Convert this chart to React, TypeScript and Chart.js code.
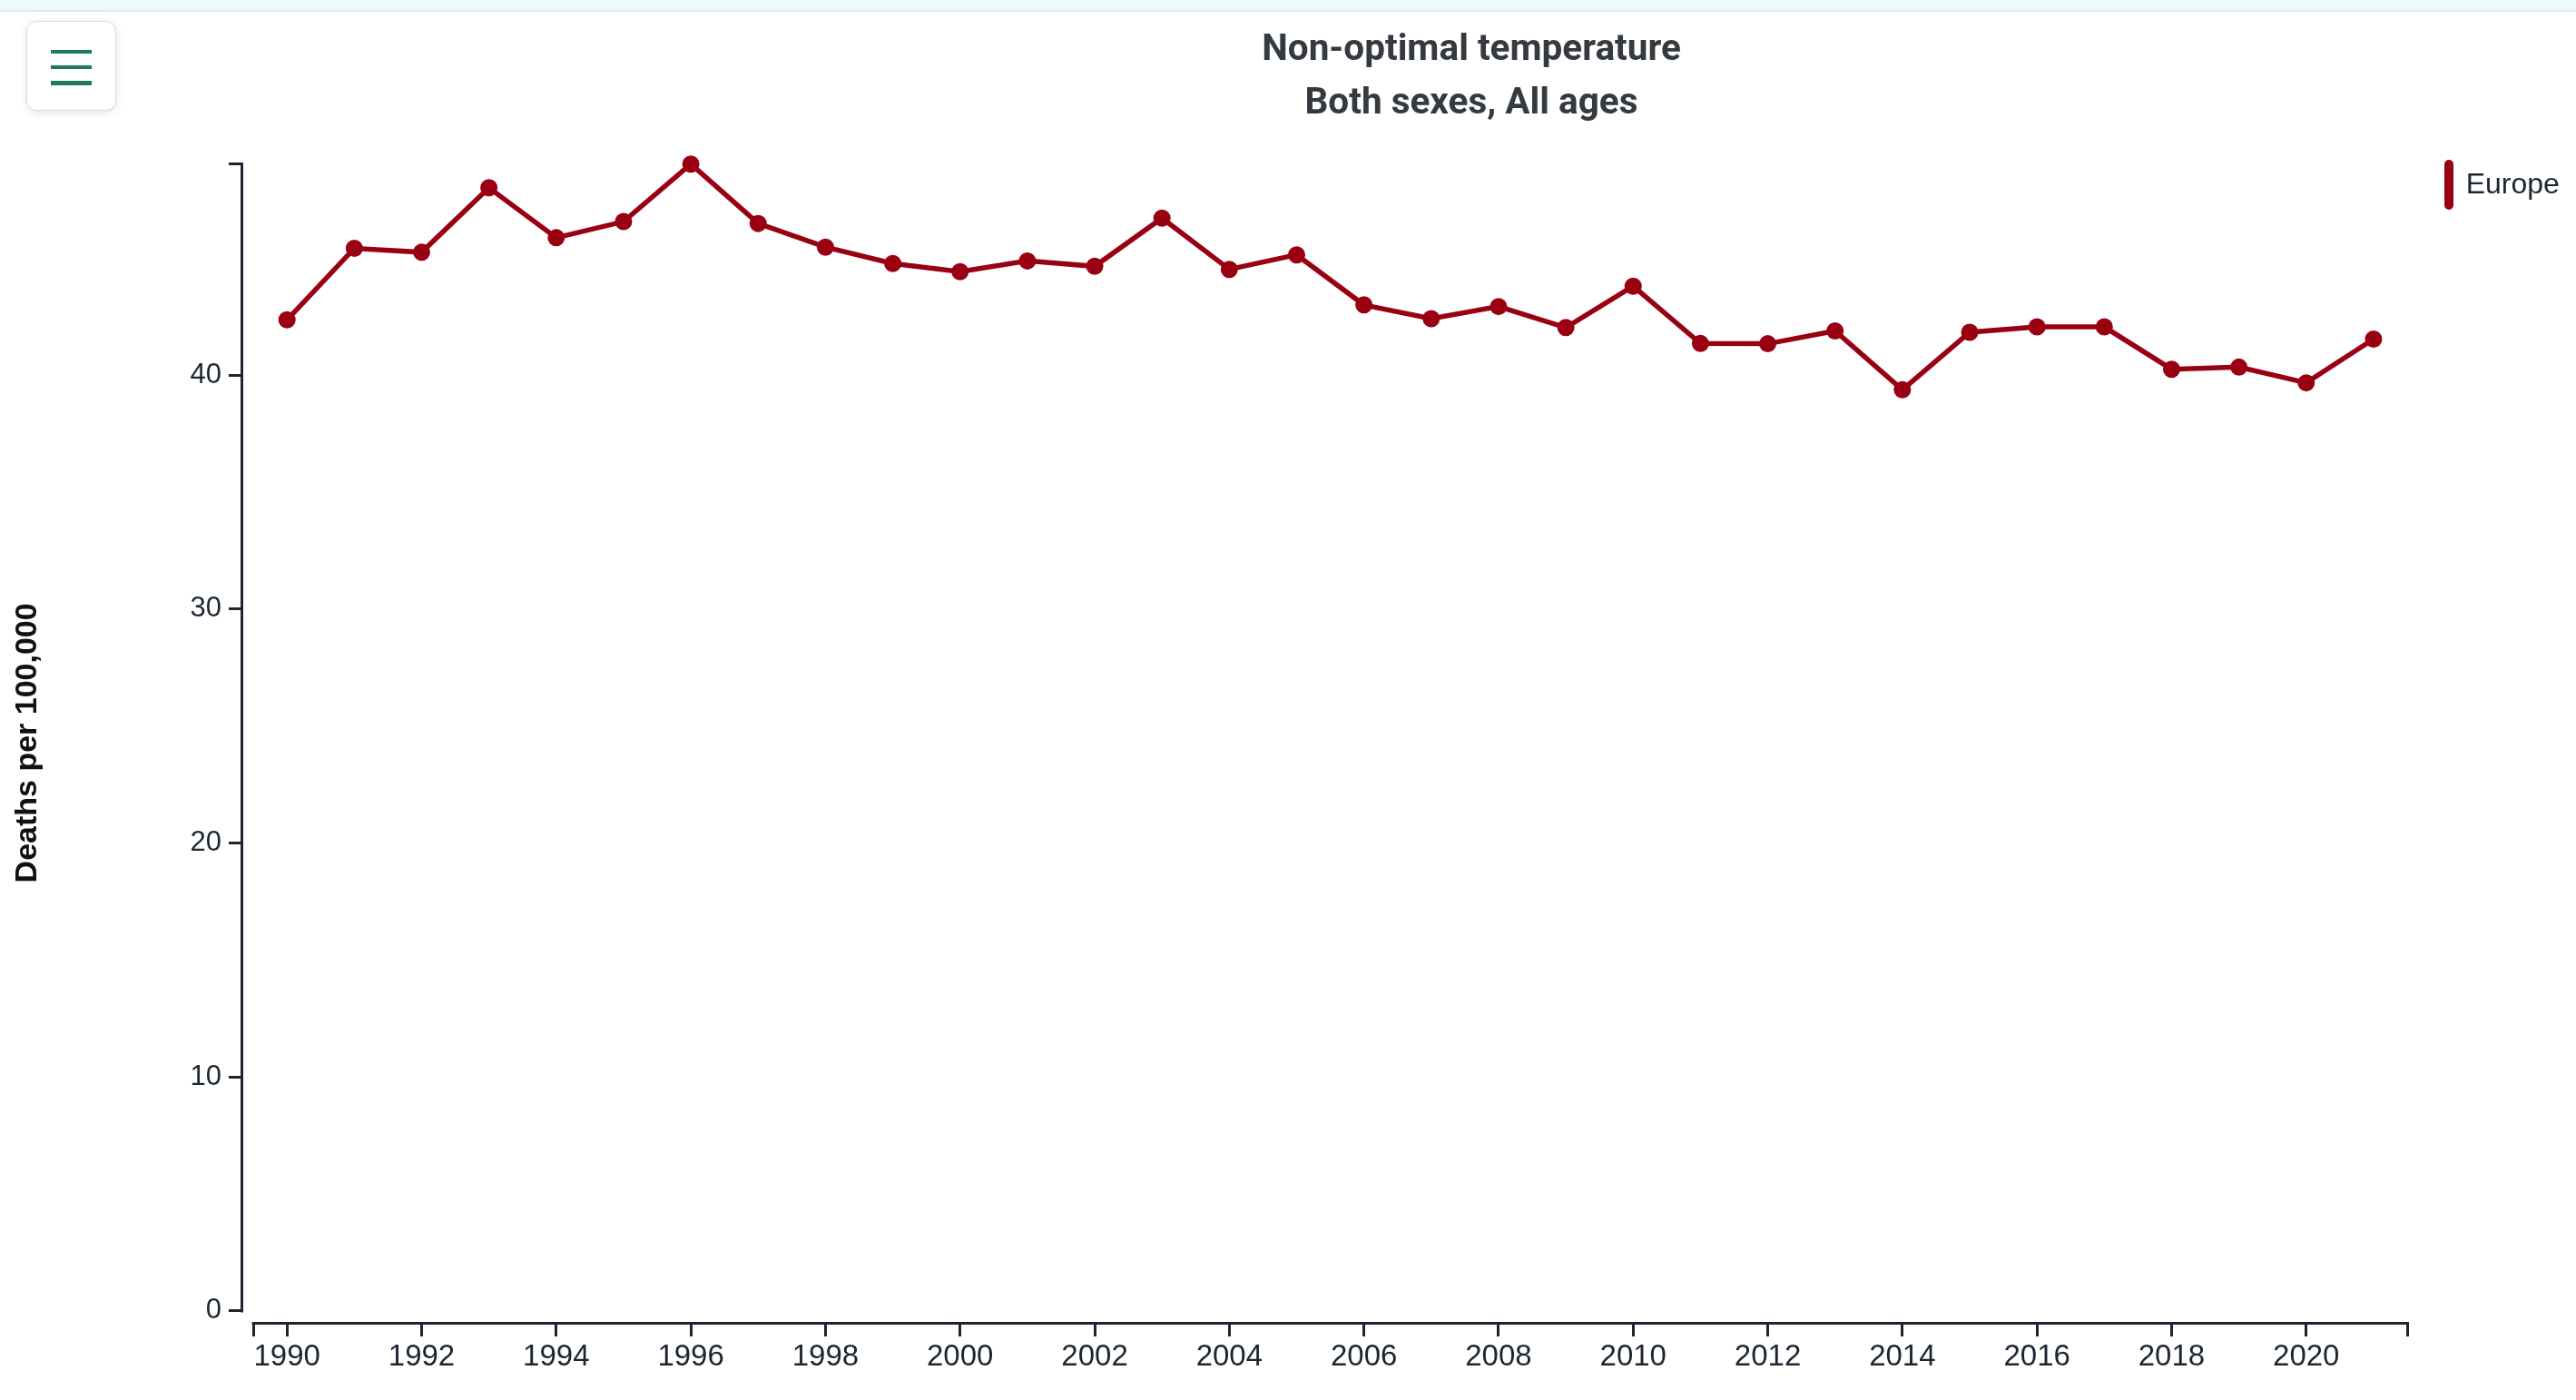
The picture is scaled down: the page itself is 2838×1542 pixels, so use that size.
import React, { useEffect, useRef } from 'react';
import { Chart, registerables } from 'chart.js';

Chart.register(...registerables);

// ---- data ----
const years = [
  1990, 1991, 1992, 1993, 1994, 1995, 1996, 1997, 1998, 1999, 2000,
  2001, 2002, 2003, 2004, 2005, 2006, 2007, 2008, 2009, 2010,
  2011, 2012, 2013, 2014, 2015, 2016, 2017, 2018, 2019, 2020, 2021,
];
const europe = [
  42.36, 45.42, 45.25, 48.01, 45.87, 46.56, 49.02, 46.48, 45.47, 44.77, 44.42,
  44.88, 44.65, 46.71, 44.52, 45.14, 43.0, 42.41, 42.93, 42.03, 43.8,
  41.35, 41.34, 41.89, 39.37, 41.83, 42.06, 42.06, 40.25, 40.34, 39.67, 41.54,
];
const xTickYears = [1990, 1992, 1994, 1996, 1998, 2000, 2002, 2004, 2006, 2008, 2010, 2012, 2014, 2016, 2018, 2020];
const yTickValues = [0, 10, 20, 30, 40];
const xDomain = [1989.5, 2021.5];
const xRange = [1989.35, 2021.5];
const yMin = -0.47;

const titleLines = ['Non-optimal temperature', 'Both sexes, All ages'];
const seriesName = 'Europe';
const yTitle = 'Deaths per 100,000';

const RED = '#990012';
const AXIS = '#1b2631';
const TEXT = '#1b2631';
const SANS = "'Liberation Sans', Arial, sans-serif";

export default function App() {
  const canvasRef = useRef<HTMLCanvasElement | null>(null);

  useEffect(() => {
    const canvas = canvasRef.current;
    if (!canvas) return;
    const yMax = Math.max(...europe);

    const domainPlugin = {
      id: 'domainLines',
      beforeDatasetsDraw(chart: any) {
        const { ctx, chartArea } = chart;
        const x = chart.scales.x;
        const y = chart.scales.y;
        ctx.save();
        ctx.strokeStyle = AXIS;
        ctx.lineWidth = 3;
        ctx.lineCap = 'butt';
        const yTop = y.getPixelForValue(yMax);
        const y0 = y.getPixelForValue(0);
        ctx.beginPath();
        ctx.moveTo(chartArea.left - 1.5, yTop - 1.5);
        ctx.lineTo(chartArea.left - 1.5, y0 + 1.5);
        ctx.stroke();
        const xl = x.getPixelForValue(xDomain[0]);
        const xr = x.getPixelForValue(xDomain[1]);
        ctx.beginPath();
        ctx.moveTo(xl - 1.5, chartArea.bottom + 1.5);
        ctx.lineTo(xr + 1.5, chartArea.bottom + 1.5);
        ctx.stroke();
        ctx.restore();
      },
    };

    const chart = new Chart(canvas, {
      type: 'line',
      data: {
        datasets: [
          {
            label: seriesName,
            data: years.map((yr, i) => ({ x: yr, y: europe[i] })),
            borderColor: RED,
            backgroundColor: RED,
            borderWidth: 5.5,
            pointRadius: 9.5,
            pointBorderWidth: 0,
            pointBackgroundColor: RED,
            tension: 0,
            clip: false as any,
          },
        ],
      },
      options: {
        responsive: false,
        animation: false,
        devicePixelRatio: 1,
        layout: { padding: { top: 180.7, right: 186, left: 0, bottom: 0 } },
        plugins: {
          legend: { display: false },
          title: { display: false },
          tooltip: { enabled: false },
        },
        scales: {
          x: {
            type: 'linear',
            min: xRange[0],
            max: xRange[1],
            afterBuildTicks: (s: any) => {
              s.ticks = [xDomain[0], ...xTickYears, xDomain[1]].map((v) => ({ value: v }));
            },
            afterFit: (s: any) => {
              s.height = 86;
            },
            grid: {
              display: true,
              drawOnChartArea: false,
              drawTicks: true,
              tickLength: 16,
              tickWidth: 3,
              tickColor: AXIS,
              color: AXIS,
            },
            border: { display: false },
            ticks: {
              autoSkip: false,
              maxRotation: 0,
              minRotation: 0,
              padding: 3,
              color: TEXT,
              font: { family: SANS, size: 33 },
              callback: (v: any) => (xTickYears.includes(Number(v)) ? String(v) : ''),
            },
          },
          y: {
            type: 'linear',
            min: yMin,
            max: yMax,
            afterBuildTicks: (s: any) => {
              s.ticks = [...yTickValues, yMax].map((v) => ({ value: v }));
            },
            afterFit: (s: any) => {
              s.width = 268;
            },
            grid: {
              display: true,
              drawOnChartArea: false,
              drawTicks: true,
              tickLength: 16,
              tickWidth: 3,
              tickColor: AXIS,
              color: AXIS,
            },
            border: { display: false },
            ticks: {
              padding: 8,
              color: TEXT,
              font: { family: SANS, size: 31 },
              callback: (v: any) => (yTickValues.includes(Number(v)) ? String(v) : ''),
            },
            title: {
              display: true,
              text: yTitle,
              color: '#111111',
              font: { family: SANS, size: 34, weight: 'bold', lineHeight: 1 },
              padding: { top: 14, bottom: 0 },
            },
          },
        },
      } as any,
      plugins: [domainPlugin],
    });

    return () => {
      chart.destroy();
    };
  }, []);

  return (
    <div
      style={{
        position: 'absolute',
        left: 0,
        top: 0,
        width: 2838,
        height: 1542,
        background: '#ffffff',
        overflow: 'hidden',
      }}
    >
      <canvas ref={canvasRef} width={2838} height={1542} style={{ position: 'absolute', left: 0, top: 0, width: 2838, height: 1542 }} />
      <div
        style={{
          position: 'absolute',
          left: 0,
          top: 0,
          width: 2838,
          height: 11,
          background: '#eef9fc',
          borderBottom: '2px solid #e1e8ec',
        }}
      />
      <div
        style={{
          position: 'absolute',
          left: 29,
          top: 23,
          width: 97,
          height: 97,
          border: '1px solid #dcdcdc',
          borderRadius: 12,
          background: '#ffffff',
          boxShadow: '0 2px 8px rgba(0,0,0,0.12)',
        }}
      >
        {[30.5, 47.5, 65].map((t) => (
          <div
            key={t}
            style={{ position: 'absolute', left: 25.7, top: t, width: 45, height: 4.5, background: '#1e7b55' }}
          />
        ))}
      </div>
      {titleLines.map((line, i) => (
        <div
          key={line}
          style={{
            position: 'absolute',
            left: 1621,
            top: i === 0 ? 31.9 : 90.9,
            transform: 'translateX(-50%)',
            whiteSpace: 'nowrap',
            fontFamily: 'Roboto, sans-serif',
            fontWeight: 700,
            fontSize: 40.5,
            lineHeight: '40.5px',
            color: '#343a40',
          }}
        >
          {line}
        </div>
      ))}
      <div
        style={{
          position: 'absolute',
          left: 2692.7,
          top: 176,
          width: 10,
          height: 54.7,
          borderRadius: 5,
          background: RED,
        }}
      />
      <div
        style={{
          position: 'absolute',
          left: 2716.7,
          top: 186.2,
          whiteSpace: 'nowrap',
          fontFamily: SANS,
          fontSize: 32,
          lineHeight: '32px',
          color: TEXT,
        }}
      >
        {seriesName}
      </div>
    </div>
  );
}
